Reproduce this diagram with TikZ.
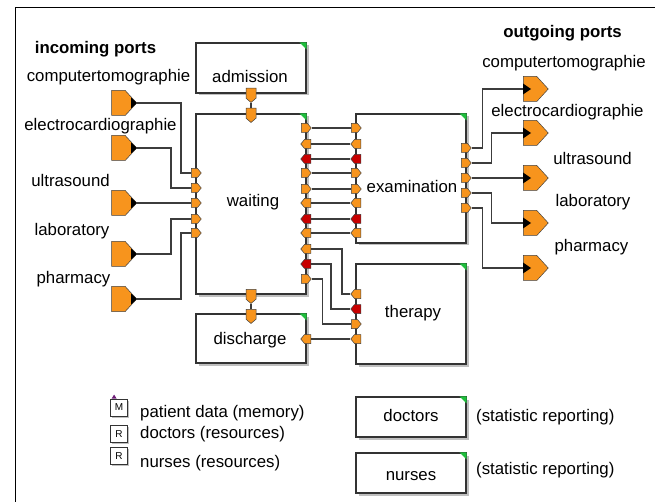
\documentclass[tikz,border=0pt]{standalone}
\usepackage{fontspec}
\setmainfont{Liberation Sans}
\usetikzlibrary{shapes.symbols,shadows}
\definecolor{portor}{RGB}{247,148,29}
\definecolor{portred}{RGB}{200,0,0}
\definecolor{boxgreen}{RGB}{30,190,60}
\definecolor{wirec}{RGB}{60,60,60}
\definecolor{memviolet}{RGB}{110,30,120}
\begin{document}
\begin{tikzpicture}[x=1pt,y=-1pt,
  every node/.style={font=\fontsize{16.8}{20}\selectfont},
  lbl/.style={inner sep=0pt, text height=12pt, text depth=3.5pt},
  boldlbl/.style={lbl, font=\fontsize{16.8}{20}\selectfont\bfseries},
  boxn/.style={draw=black!80, line width=1.1pt, fill=white, inner sep=0pt,
    drop shadow={shadow xshift=2.5pt,shadow yshift=-2.5pt,fill=black!25,opacity=1}},
  sport/.style={signal, draw=black!75, line width=0.5pt, fill=portor,
    minimum width=10pt, minimum height=9pt, inner sep=0pt, signal pointer angle=100},
  rp/.style={sport, signal to=east, anchor=west, xshift=-5pt},
  lp/.style={sport, signal to=west, anchor=east, xshift=5pt},
  dport/.style={sport, minimum height=10pt, signal to=south, anchor=north, yshift=5pt},
  bport/.style={signal, draw=black!75, line width=0.5pt, fill=portor,
    minimum width=25pt, minimum height=25pt, inner sep=0pt,
    signal pointer angle=95, signal to=east},
  wire/.style={draw=wirec, line width=1.1pt},
  icon/.style={draw=black!80, fill=white, line width=0.8pt, minimum width=17pt,
    minimum height=17pt, inner sep=0pt, font=\fontsize{10}{10}\selectfont,
    drop shadow={shadow xshift=1.5pt,shadow yshift=-1.5pt,fill=black!25,opacity=1}},
  greencorner/.style={fill=boxgreen}
]
\useasboundingbox (0,0) rectangle (655,502);
\draw[line width=1pt] (15,520) -- (15,8) -- (670,8);

% boxes
\node[boxn, minimum width=110pt, minimum height=50pt] (adm) at (251,68) {};
\node[boxn, minimum width=110pt, minimum height=180pt] (wait) at (251,204) {};
\node[boxn, minimum width=110pt, minimum height=129pt] (exam) at (411,178.5) {};
\node[boxn, minimum width=110pt, minimum height=100pt] (ther) at (411,314) {};
\node[boxn, minimum width=110pt, minimum height=49pt] (disc) at (251,338.5) {};
\node[boxn, minimum width=110pt, minimum height=40pt] (doc) at (411,417) {};
\node[boxn, minimum width=110pt, minimum height=40pt] (nur) at (411,473) {};
\foreach \b in {adm,wait,exam,ther,disc,doc,nur}
  \fill[greencorner] (\b.north east) -- ++(-7,0) -- ++(7,7) -- cycle;

\node[lbl] (admT) at (250,78) {admission};
\node[lbl] (waitT) at (253,202) {waiting};
\node[lbl] (examT) at (412,188) {examination};
\node[lbl] (therT) at (413,313) {therapy};
\node[lbl] (discT) at (250,340) {discharge};
\node[lbl] (docT) at (411,417) {doctors};
\node[lbl] (nurT) at (411,476) {nurses};

% vertical ports
\node[dport] (ad) at (251,93) {};
\node[dport] (wt) at (251,113) {};
\node[dport] (wb) at (251,294) {};
\node[dport] (dt) at (251,314) {};
\draw[wire] (ad.south) -- (wt.north);
\draw[wire] (wb.south) -- (dt.north);

% waiting <-> examination / therapy ports
\foreach \y/\s/\c [count=\i] in {128/rp/portor,144/lp/portor,159/lp/portred,
  173/rp/portor,189/rp/portor,203/lp/portor,219/lp/portred,233/lp/portor,
  249/lp/portor,264/lp/portred,279/rp/portor}
  \node[\s, fill=\c] (w\i) at (306,\y) {};
\foreach \y/\s/\c [count=\i] in {128/rp/portor,144/lp/portor,159/lp/portred,
  173/rp/portor,189/rp/portor,203/lp/portor,219/lp/portred,233/lp/portor}
  \node[\s, fill=\c] (e\i) at (356,\y) {};
\foreach \i in {1,...,8}
  \draw[wire] (w\i.east) -- (e\i.west);

\foreach \y/\s/\c [count=\i] in {294/lp/portor,309/lp/portred,324/rp/portor,339/lp/portor}
  \node[\s, fill=\c] (t\i) at (356,\y) {};
\node[lp] (dc) at (306,339) {};
\draw[wire] (w9.east) -- ++(31,0) |- (t1.west);
\draw[wire] (w10.east) -- ++(20,0) |- (t2.west);
\draw[wire] (w11.east) -- ++(11,0) |- (t3.west);
\draw[wire] (dc.east) -- (t4.west);

% incoming ports
\foreach \y [count=\i] in {173,188,203,219,233}
  \node[rp] (wl\i) at (196,\y) {};
\foreach \y [count=\i] in {103,148,203,254,299}{
  \node[bport, anchor=east] (ic\i) at (137,\y) {};
  \fill[black] (ic\i.east) -- ++(-6,-5.5) -- ++(0,11) -- cycle;
}
\draw[wire] (ic1.east) -- ++(44,0) |- (wl1.west);
\draw[wire] (ic2.east) -- ++(34,0) |- (wl2.west);
\draw[wire] (ic3.east) -- (wl3.west);
\draw[wire] (ic4.east) -- ++(34,0) |- (wl4.west);
\draw[wire] (ic5.east) -- ++(44,0) |- (wl5.west);

% outgoing ports
\foreach \y [count=\i] in {148,163,178,193,208}
  \node[rp] (x\i) at (466,\y) {};
\foreach \y [count=\i] in {89,133,178,223,268}{
  \node[bport, anchor=west] (oc\i) at (523,\y) {};
  \fill[black] (oc\i.west) ++(0,-5.5) -- ++(8,5.5) -- ++(-8,5.5) -- cycle;
}
\draw[wire] (x1.east) -- ++(11,0) |- (oc1.west);
\draw[wire] (x2.east) -- ++(20,0) |- (oc2.west);
\draw[wire] (x3.east) -- (oc3.west);
\draw[wire] (x4.east) -- ++(20,0) |- (oc4.west);
\draw[wire] (x5.east) -- ++(11,0) |- (oc5.west);

% labels
\node[boldlbl] (inT) at (95.5,49) {incoming ports};
\node[lbl] (in1) at (108.5,77) {computertomographie};
\node[lbl] (in2) at (100.5,126) {electrocardiographie};
\node[lbl] (in3) at (70.5,182) {ultrasound};
\node[lbl] (in4) at (72,231) {laboratory};
\node[lbl] (in5) at (73.5,279) {pharmacy};
\node[boldlbl] (outT) at (562.5,33) {outgoing ports};
\node[lbl] (out1) at (564,63) {computertomographie};
\node[lbl] (out2) at (567.5,112) {electrocardiographie};
\node[lbl] (out3) at (592.5,160) {ultrasound};
\node[lbl] (out4) at (593,202) {laboratory};
\node[lbl] (out5) at (591.5,247) {pharmacy};

% legend
\node[icon] (memI) at (119,407.5) {M};
\fill[memviolet] (memI.north west) ++(1.5,0) -- ++(2.5,-4) -- ++(2.5,4) -- cycle;
\node[icon] (resI1) at (119,434) {R};
\node[icon] (resI2) at (119,456) {R};
\node[lbl, anchor=west] (memT) at (140,413) {patient data (memory)};
\node[lbl, anchor=west] (resT1) at (140,434) {doctors (resources)};
\node[lbl, anchor=west] (resT2) at (140,463) {nurses (resources)};
\node[lbl, anchor=west] (stat1) at (476,417) {(statistic reporting)};
\node[lbl, anchor=west] (stat2) at (476,470) {(statistic reporting)};
\end{tikzpicture}
\end{document}
